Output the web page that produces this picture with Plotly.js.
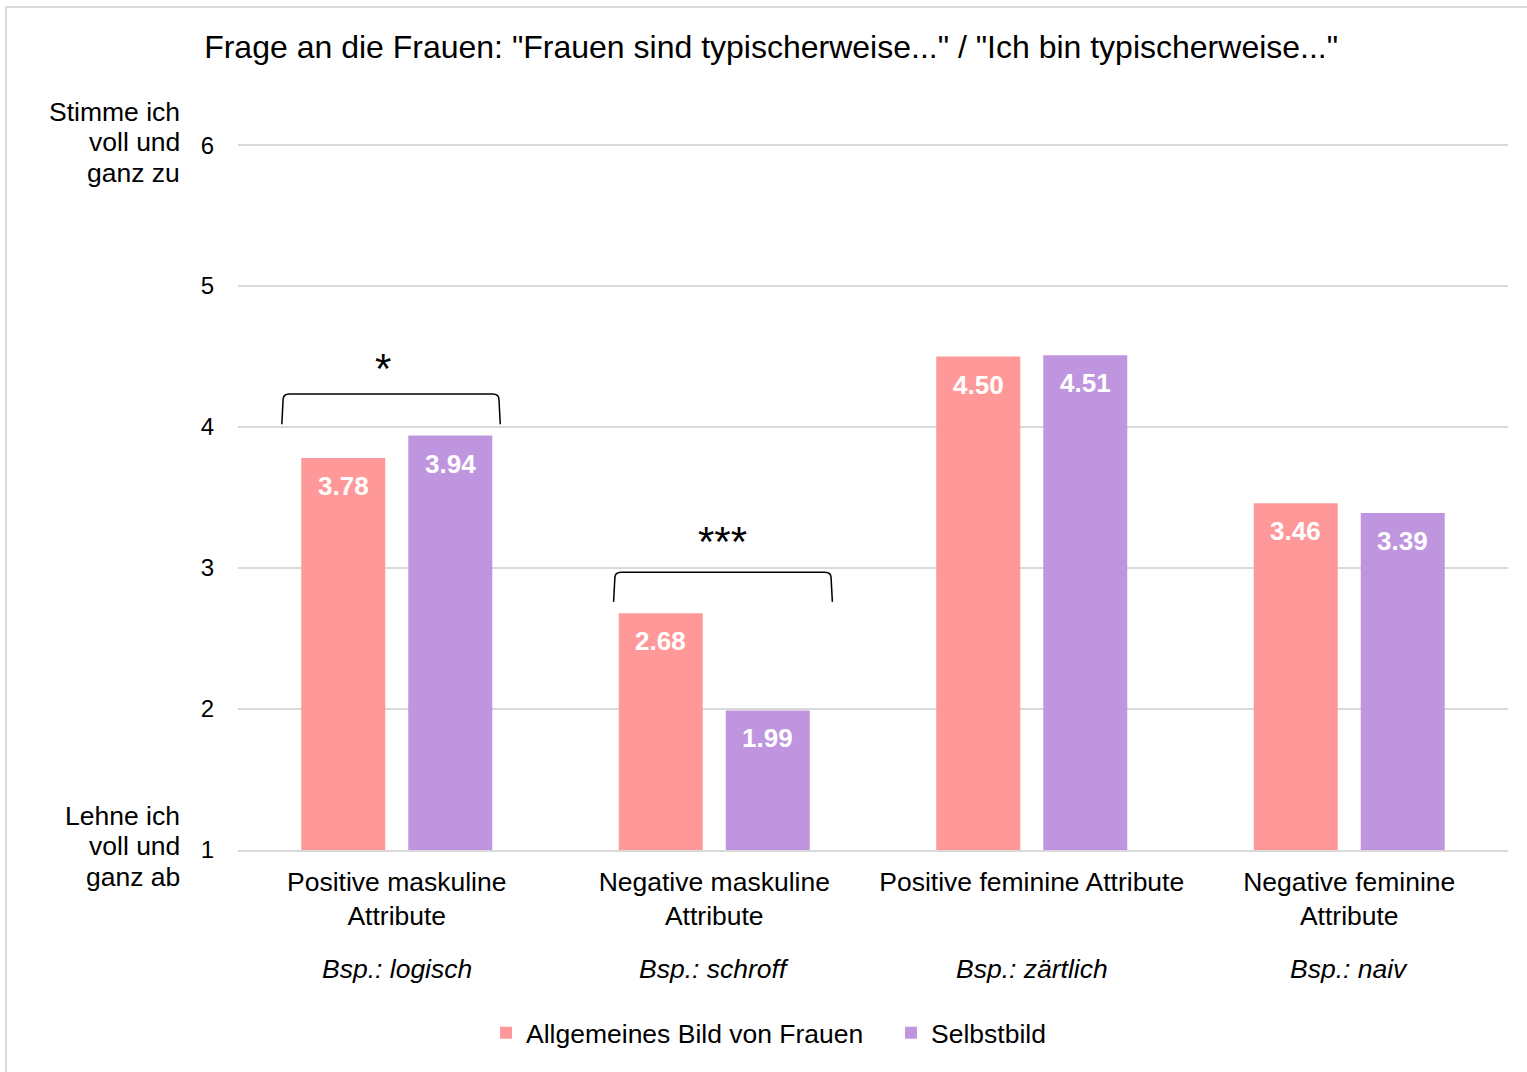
<!DOCTYPE html>
<html>
<head>
<meta charset="utf-8">
<script src="https://cdn.plot.ly/plotly-3.0.1.min.js"></script>
<style>
  html, body { margin: 0; padding: 0; background: #ffffff; overflow: hidden; }
  #chart { width: 1527px; height: 1072px; }
</style>
</head>
<body>
<div id="chart"></div>
<script>
// ---- data ----
const categories = [
  "Positive maskuline<br>Attribute",
  "Negative maskuline<br>Attribute",
  "Positive feminine Attribute",
  "Negative feminine<br>Attribute"
];
const examples = ["Bsp.: logisch", "Bsp.: schroff", "Bsp.: zärtlich", "Bsp.: naiv"];
const seriesNames = ["Allgemeines Bild von Frauen", "Selbstbild"];
const allgemeinValues = [3.78, 2.68, 4.50, 3.46];
const selbstValues = [3.94, 1.99, 4.51, 3.39];
const yTickValues = [1, 2, 3, 4, 5, 6];
const yTopLabelLines = ["Stimme ich", "voll und", "ganz zu"];
const yBottomLabelLines = ["Lehne ich", "voll und", "ganz ab"];
const sigCategories = [0, 1];
const sigLabels = ["*", "***"];
const titleText = 'Frage an die Frauen: "Frauen sind typischerweise..." / "Ich bin typischerweise..."';

// ---- styling ----
const FONT = "Liberation Sans, Arial, Helvetica, sans-serif";
const PINK = "#FF9999";
const PURPLE = "#BF95DF";
const GRID = "#D9D9D9";
const xIdx = categories.map((_, i) => i);

const BARGAP = 0.326, GROUPGAP = 0.215;
const slot = (1 - BARGAP) / 2; // width of each series slot in category units

const traces = [
  { type: "bar", name: seriesNames[0], x: xIdx, y: allgemeinValues,
    marker: { color: PINK }, hoverinfo: "skip" },
  { type: "bar", name: seriesNames[1], x: xIdx, y: selbstValues,
    marker: { color: PURPLE }, hoverinfo: "skip" }
];

const annotations = [];
// value labels inside bar tops
[allgemeinValues, selbstValues].forEach((vals, s) => {
  vals.forEach((v, i) => {
    annotations.push({
      x: i + (s === 0 ? -slot / 2 : slot / 2), y: v, xref: "x", yref: "y",
      text: v.toFixed(2), showarrow: false, yanchor: "middle", yshift: -28,
      font: { family: FONT, size: 26, color: "#ffffff", weight: "bold" }
    });
  });
});
// example lines under category labels
examples.forEach((t, i) => {
  annotations.push({
    x: i, xref: "x", y: -0.1688, yref: "paper", text: "<i>" + t + "</i>",
    showarrow: false, xanchor: "center", yanchor: "middle",
    font: { family: FONT, size: 26.5, color: "#000000" }
  });
});
// y-axis end labels (one annotation per line)
function sideLabel(lines, yVal, baseShift) {
  lines.forEach((ln, k) => {
    annotations.push({ x: -0.0441, xref: "paper", y: yVal, yref: "y", text: ln,
      showarrow: false, xanchor: "right", yanchor: "middle", align: "right",
      yshift: baseShift - (k - 1) * 30.5,
      font: { family: FONT, size: 26.5, color: "#000000" } });
  });
}
sideLabel(yTopLabelLines, 6, 3);
sideLabel(yBottomLabelLines, 1, 4);

// significance brackets (geometry per bracket, relative to category centre)
const bracketGeom = [
  { left: -0.358, right: 0.322, top: 4.234, bottom: 4.02, star: 4.418 },
  { left: -0.313, right: 0.368, top: 2.97, bottom: 2.76, star: 3.19 }
];
const shapes = [];
sigCategories.forEach((c, k) => {
  const g = bracketGeom[k];
  const x0 = c + g.left, x1 = c + g.right;
  const rx = 0.02, ry = 0.04;
  const path = `M ${x0 - 0.004} ${g.bottom} L ${x0} ${g.top - ry} Q ${x0} ${g.top} ${x0 + rx} ${g.top} ` +
               `L ${x1 - rx} ${g.top} Q ${x1} ${g.top} ${x1} ${g.top - ry} L ${x1 + 0.004} ${g.bottom}`;
  shapes.push({ type: "path", xref: "x", yref: "y", path: path,
    line: { color: "#000000", width: 1.5 } });
  annotations.push({ x: (x0 + x1) / 2 + (k === 0 ? -0.025 : 0), y: g.star, xref: "x", yref: "y",
    text: sigLabels[k], showarrow: false, xanchor: "center", yanchor: "middle",
    font: { family: FONT, size: 42, color: "#000000" } });
});
// outer chart border
shapes.push({ type: "rect", xref: "paper", yref: "paper",
  x0: -0.1827, x1: 1.2, y0: -0.6, y1: 1.1924,
  line: { color: GRID, width: 2 }, fillcolor: "rgba(0,0,0,0)", layer: "below" });

const layout = {
  width: 1527, height: 1072,
  margin: { l: 238, r: 19, t: 143, b: 222 },
  paper_bgcolor: "#ffffff", plot_bgcolor: "#ffffff",
  font: { family: FONT, color: "#000000" },
  title: { text: titleText, x: 0.505, xref: "container", xanchor: "center",
    y: 1 - 47 / 1072, yref: "container", yanchor: "middle",
    font: { family: FONT, size: 32, color: "#000000" } },
  barmode: "group", bargap: BARGAP, bargroupgap: GROUPGAP,
  xaxis: { type: "linear", range: [-0.5, 3.5], tickvals: xIdx, ticktext: categories,
    showgrid: false, zeroline: false, showline: true, linecolor: GRID, linewidth: 2,
    ticks: "", ticklabelstandoff: 7, tickfont: { family: FONT, size: 26.5, color: "#000000" }, fixedrange: true },
  yaxis: { range: [1, 6.015], tickvals: yTickValues, ticktext: yTickValues.map(String),
    showgrid: true, gridcolor: GRID, gridwidth: 2, zeroline: false, showline: false,
    ticks: "", ticklabelstandoff: 23, tickfont: { family: FONT, size: 24, color: "#000000" },
    fixedrange: true },
  showlegend: true,
  legend: { orientation: "h", xref: "container", x: 486 / 1527, xanchor: "left",
    yref: "container", y: 1 - 1033 / 1072, yanchor: "middle", entrywidth: 360,
    font: { family: FONT, size: 26.5, color: "#000000" }, itemclick: false, itemdoubleclick: false },
  annotations: annotations,
  shapes: shapes
};

Plotly.newPlot("chart", traces, layout, { staticPlot: true, displayModeBar: false });
</script>
</body>
</html>
